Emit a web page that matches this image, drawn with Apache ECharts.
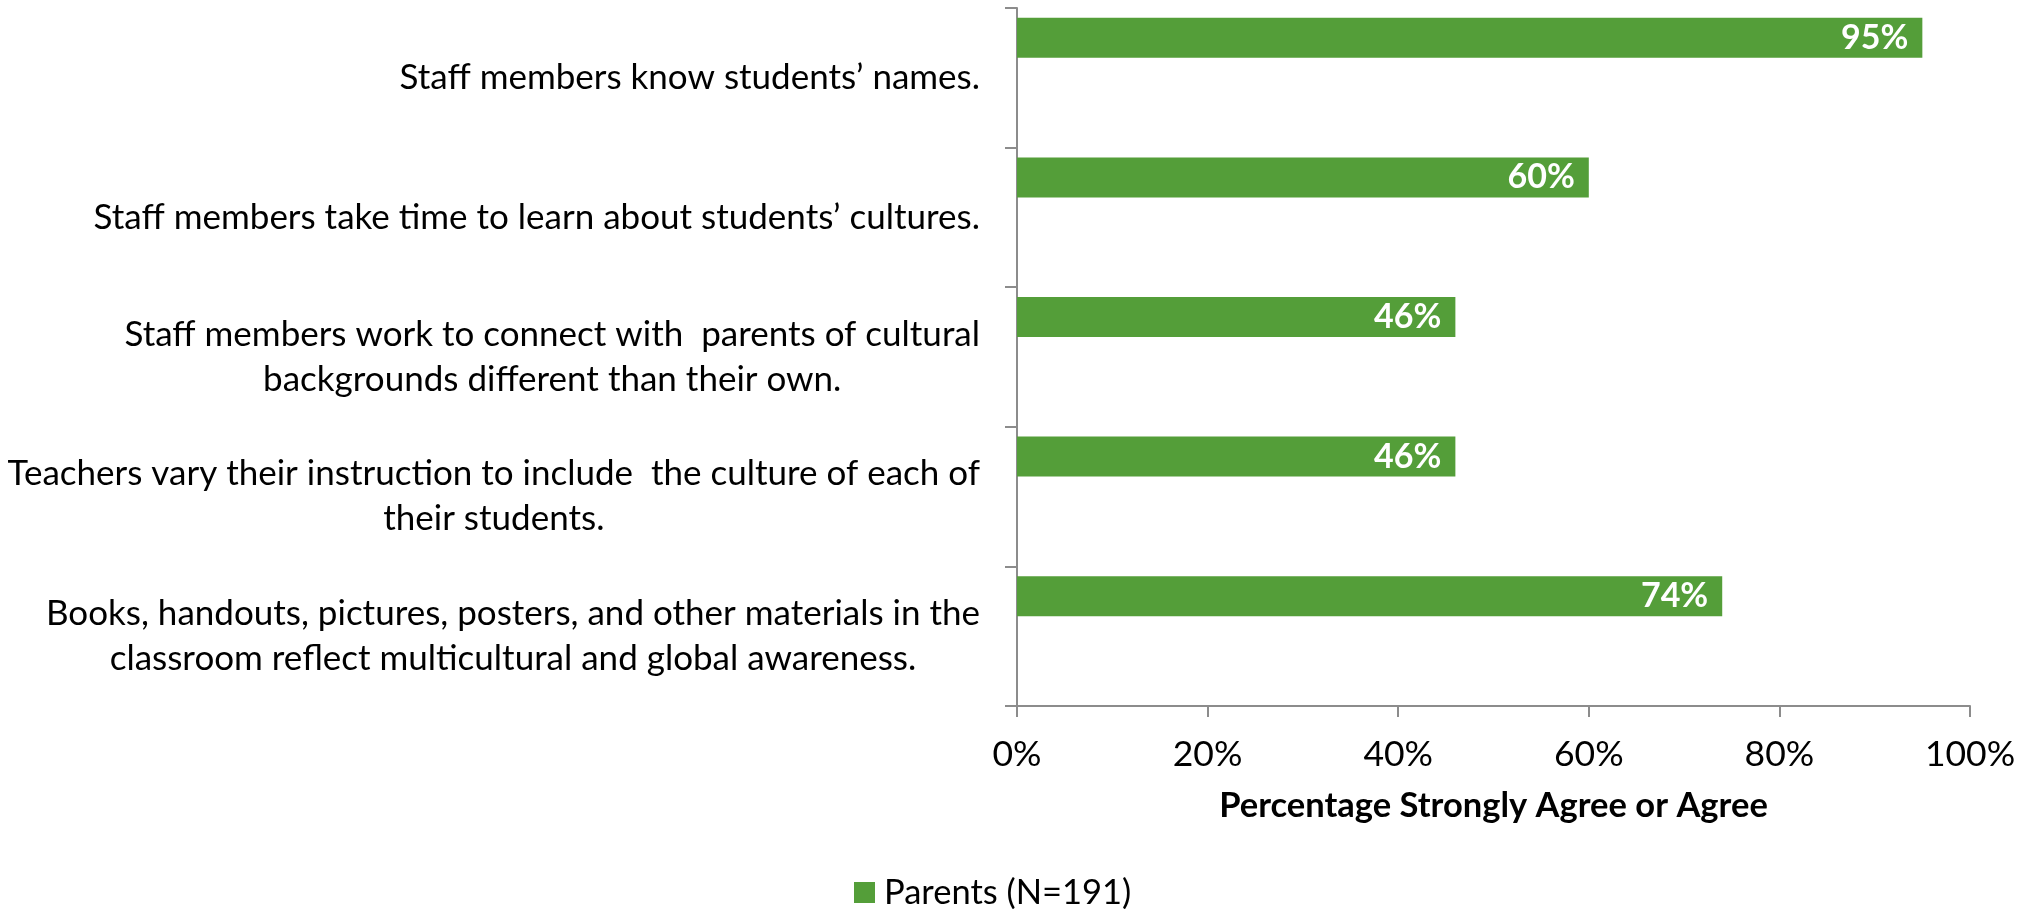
<!DOCTYPE html>
<html>
<head>
<meta charset="utf-8">
<script src="https://cdn.jsdelivr.net/npm/echarts@6/dist/echarts.min.js"></script>
<style>html,body{margin:0;padding:0;background:#fff}#c{width:2030px;height:909px}</style>
</head>
<body>
<div id="c"></div>
<script>
const categories = [
  "Staff members know students’ names.",
  "Staff members take time to learn about students’ cultures.",
  "Staff members work to connect with  parents of cultural\nbackgrounds different than their own.",
  "Teachers vary their instruction to include  the culture of each of\ntheir students.",
  "Books, handouts, pictures, posters, and other materials in the\nclassroom reflect multicultural and global awareness."
];
const parentsValues = [95, 60, 46, 46, 74];
const seriesName = "Parents (N=191)";
const xTicks = { min: 0, max: 100, interval: 20 };
const axisTitle = "Percentage Strongly Agree or Agree";

const FONT = 'Lato';
const chart = echarts.init(document.getElementById('c'));
const axisColor = '#8c8c8c';
chart.setOption({
  animation: false,
  backgroundColor: '#fff',
  grid: { left: 1017, right: 60, top: 8, bottom: 203, containLabel: false },
  legend: {
    data: [seriesName],
    left: 854, top: 875, padding: 0,
    icon: 'rect', itemWidth: 21, itemHeight: 21, itemGap: 10,
    textStyle: { fontFamily: FONT, fontSize: 34.5, color: '#000', padding: [0,0,0,4] }
  },
  xAxis: {
    type: 'value', min: xTicks.min, max: xTicks.max, interval: xTicks.interval,
    axisLine: { show: true, lineStyle: { color: axisColor, width: 2 } },
    axisTick: { show: true, length: 11, lineStyle: { color: axisColor, width: 2 } },
    splitLine: { show: false },
    axisLabel: { formatter: '{value}%', fontFamily: FONT, fontSize: 35.5, color: '#000', margin: 31 },
    name: axisTitle, nameLocation: 'middle', nameGap: 82,
    nameTextStyle: { fontFamily: FONT, fontSize: 34.5, fontWeight: 'bold', color: '#000' }
  },
  yAxis: {
    type: 'category', inverse: true, data: categories,
    axisLine: { show: true, lineStyle: { color: axisColor, width: 2 } },
    axisTick: { show: true, length: 12, lineStyle: { color: axisColor, width: 2 } },
    axisLabel: {
      margin: 37, color: '#000', fontFamily: FONT, fontSize: 35, lineHeight: 45,
      formatter: v => v.split('\n').map(s => '{c|' + s + '}').join('\n'),
      rich: { c: { align: 'center', fontFamily: FONT, fontSize: 35, lineHeight: 45, color: '#000' } }
    }
  },
  series: [
    {
      name: seriesName, type: 'bar', data: parentsValues, barWidth: 40, barGap: '0%',
      itemStyle: { color: '#549E39' },
      label: { show: true, position: 'insideRight', distance: 14, formatter: '{c}%',
        color: '#fff', fontWeight: 'bold', fontFamily: FONT, fontSize: 34 }
    },
    { name: 'b', type: 'bar', data: [], barWidth: 40, barGap: '0%' },
    { name: 'c', type: 'bar', data: [], barWidth: 40, barGap: '0%' }
  ]
});
</script>
</body>
</html>
